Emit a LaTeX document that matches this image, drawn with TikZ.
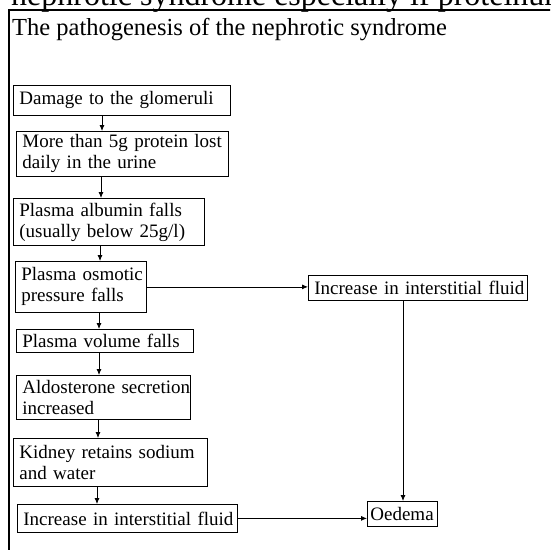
\documentclass[tikz,border=0pt]{standalone}
\usepackage{fontspec}
\setmainfont{Liberation Serif}
\usetikzlibrary{arrows.meta}
\newcommand\oneline[1]{\mbox{#1}}
\begin{document}
\begin{tikzpicture}[x=1pt,y=-1pt,
  box/.style={draw, line width=0.8pt, anchor=north west, inner xsep=6pt, inner ysep=0pt,
    font=\fontsize{19}{21}\selectfont, align=left},
  arr/.style={-{Latex[length=6pt,width=5pt]}, line width=0.8pt},
  ln/.style={line width=0.8pt},
  frame/.style={line width=1.6pt}]
\useasboundingbox (0,0) rectangle (550,550);
\clip (0,0) rectangle (550,550);
% cut-off line of text above the frame
\node[anchor=base west, inner sep=0pt, font=\fontsize{32}{36}\selectfont] (top) at (11,5)
  {nephrotic syndrome especially if proteinuria};
% frame
\coordinate (ftl) at (9,10);
\coordinate (ftr) at (551,10);
\coordinate (fbl) at (9,551);
\draw[frame] (ftr) -- (ftl) -- (fbl);
% title
\node[anchor=base west, inner sep=0pt, font=\fontsize{24.5}{28}\selectfont] (title) at (12,35)
  {The pathogenesis of the nephrotic syndrome};
% boxes
\node[box, text width=205pt, minimum height=30pt] (b1) at (13,85) {\oneline{Damage to the glomeruli}};
\node[box, text width=200pt, minimum height=45pt] (b2) at (16,131) {\oneline{More than 5g protein lost}\\\oneline{daily in the urine}};
\node[box, text width=179pt, minimum height=47pt] (b3) at (13,198) {\oneline{Plasma albumin falls}\\\oneline{(usually below 25g/l)}};
\node[box, text width=119pt, minimum height=51pt] (b4) at (15,261) {\oneline{Plasma osmotic}\\\oneline{pressure falls}};
\node[box, text width=165pt, minimum height=23pt] (b5) at (16,329) {\oneline{Plasma volume falls}};
\node[box, text width=162pt, minimum height=44pt] (b6) at (16,375) {\oneline{Aldosterone secretion}\\\oneline{increased}};
\node[box, text width=182pt, minimum height=48pt] (b7) at (13,438) {\oneline{Kidney retains sodium}\\\oneline{and water}};
\node[box, text width=208pt, minimum height=28pt] (b8) at (17,504) {\oneline{Increase in interstitial fluid}};
\node[box, text width=207pt, minimum height=25pt] (r1) at (308,275) {\oneline{Increase in interstitial fluid}};
\node[box, inner xsep=3pt, text width=64pt, minimum height=25pt] (oed) at (367,501) {\oneline{Oedema}};
% arrow columns
\coordinate (x1) at (102,0);
\coordinate (x2) at (101,0);
\coordinate (x3) at (100,0);
\coordinate (x4) at (99,0);
\coordinate (x5) at (99,0);
\coordinate (x6) at (98,0);
\coordinate (x7) at (97,0);
\coordinate (xr) at (403,0);
\draw[arr] (b1.south -| x1) -- (b2.north -| x1);
\draw[arr] (b2.south -| x2) -- (b3.north -| x2);
\draw[arr] (b3.south -| x3) -- (b4.north -| x3);
\draw[arr] (b4.south -| x4) -- (b5.north -| x4);
\draw[arr] (b5.south -| x5) -- (b6.north -| x5);
\draw[arr] (b6.south -| x6) -- (b7.north -| x6);
\draw[arr] (b7.south -| x7) -- (b8.north -| x7);
\draw[arr] (b4.east) -- (b4.east -| r1.west);
\draw[arr] (r1.south -| xr) -- (oed.north -| xr);
\draw[arr] (b8.east) -- (b8.east -| oed.west);
\end{tikzpicture}
\end{document}
